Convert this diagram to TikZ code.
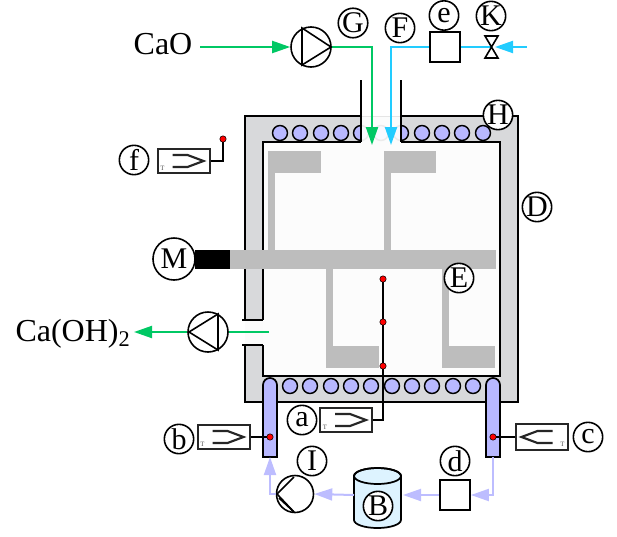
\documentclass[tikz,border=0pt]{standalone}
\usepackage{fontspec}
\setmainfont{Liberation Serif}
\usetikzlibrary{arrows.meta}
\definecolor{feedgreen}{HTML}{00C864}
\definecolor{watercyan}{HTML}{22CCFF}
\definecolor{coolblue}{HTML}{BDBDFF}
\definecolor{coilblue}{HTML}{B8B8FF}
\definecolor{wallgray}{HTML}{D8D9DB}
\definecolor{paddlegray}{HTML}{BDBDBD}
\definecolor{tankblue}{HTML}{DDF3FF}
\definecolor{roomwhite}{HTML}{FCFCFC}

\begin{document}
\begin{tikzpicture}[
    x=0.75pt, y=-0.75pt,
    tag/.style={circle, draw=black, line width=1.2pt, fill=white, minimum size=22pt, inner sep=0pt, font=\fontsize{22.5}{24}\selectfont},
    species/.style={inner sep=0pt, font=\fontsize{24}{26}\selectfont},
    pump/.style={circle, draw=black, line width=1.2pt, fill=white, minimum size=30pt, inner sep=0pt},
    smallbox/.style={rectangle, draw=black, line width=1.3pt, fill=white, minimum size=22.5pt, inner sep=0pt},
    sensorbox/.style={rectangle, draw=black!85, line width=1.5pt, fill=white, minimum width=39pt, minimum height=17.5pt, inner sep=0pt},
    probe/.style={circle, draw=black, line width=0.4pt, fill=red, minimum size=4.8pt, inner sep=0pt},
    wire/.style={draw=black, line width=1.2pt},
    wall/.style={draw=black, line width=1.3pt},
    coil/.style={draw=black, line width=1.1pt, fill=coilblue},
    jacket/.style={draw=black, line width=1.3pt, fill=coilblue},
    paddle/.style={fill=paddlegray},
    feed/.style={draw=feedgreen, line width=1.5pt, -{Triangle[length=13.5pt,width=9pt]}},
    water/.style={draw=watercyan, line width=1.5pt, -{Triangle[length=13.5pt,width=9pt]}},
    coolant/.style={draw=coolblue, line width=1.5pt, -{Triangle[length=13.5pt,width=9pt]}},
    sensormark/.pic={
        \draw [line width=1.6pt, draw=black!85] (-11,-6) -- (4,-6) -- (20,0) -- (4,6) -- (-11,6);
        \node [text=black!70, inner sep=0pt, font=\fontsize{5}{6}\selectfont] at (-21,7) {T};
    }
]
\useasboundingbox (0,0) rectangle (617,536);

% Reactor wall and interior
\fill [wallgray] (245,116) rectangle (518,402);
\fill [roomwhite] (263,142) rectangle (500,376);

% Coils in the wall
\foreach \x in {280,300,321,341,361,381,401,422,442,462,483}
    \draw [coil] (\x,133) circle [radius=5.6pt];
\foreach \x in {290,310,331,351,371,392,412,432,453,473}
    \draw [coil] (\x,386) circle [radius=5.6pt];

% Openings in the wall
\fill [white, opacity=0.92] (361,116) rectangle (401,142);
\draw [black!10] (361,116) -- (401,116);
\fill [white, opacity=0.9] (245,320) rectangle (263,345);
\draw [wall] (361,116) -- (245,116) -- (245,320);
\draw [wall] (245,345) -- (245,402) -- (518,402) -- (518,116) -- (401,116);
\draw [wall] (263,320) -- (263,142) -- (361,142);
\draw [wall] (263,345) -- (263,376) -- (500,376) -- (500,142) -- (401,142);
\draw [wall] (361,80) -- (361,142);
\draw [wall] (401,80) -- (401,142);
\draw [wall] (242,320) -- (263,320);
\draw [wall] (242,345) -- (263,345);

% Stirrer
\fill [paddle] (230,250) rectangle (496,269);
\fill [black] (195,250) rectangle (230,269);
\fill [paddle] (268,151) rectangle (321,173);
\fill [paddle] (268,173) rectangle (275,250);
\fill [paddle] (384,151) rectangle (436,173);
\fill [paddle] (384,173) rectangle (391,250);
\fill [paddle] (326,269) rectangle (333,346);
\fill [paddle] (326,346) rectangle (379,368);
\fill [paddle] (442,269) rectangle (449,346);
\fill [paddle] (442,346) rectangle (495,368);

% Jacket tubes
\draw [jacket] (263,457) -- (263,385) arc [start angle=180, end angle=0, radius=5.25pt] -- (277,457) -- cycle;
\draw [jacket] (486,457) -- (486,385) arc [start angle=180, end angle=0, radius=5.25pt] -- (500,457) -- cycle;

% Tank
\draw [wall, fill=tankblue] (354,476) -- (354,520) arc [start angle=180, end angle=360, x radius=17.6pt, y radius=6pt] -- (401,476) arc [start angle=0, end angle=180, x radius=17.6pt, y radius=6pt] -- cycle;
\draw [wall] (377.5,476) ellipse [x radius=17.6pt, y radius=6pt];

% Free ends of the connectors
\coordinate (caostart) at (200,47);
\coordinate (caoin) at (372,145);
\coordinate (waterstart) at (527,47);
\coordinate (valvein) at (495,47);
\coordinate (waterin) at (391,145);
\coordinate (slurrystart) at (269,332);
\coordinate (slurryend) at (134,332);
\coordinate (jacketleft) at (270,457);
\coordinate (jacketright) at (493,457);
\coordinate (tankin) at (403,495);
\coordinate (tankout) at (354,495);
\coordinate (probetop) at (223,139);

% Pumps, boxes and valve
\node [pump] (pumpg) at (311,47) {};
\node [pump] (pumpo) at (208,332) {};
\node [pump, minimum size=27.75pt] (pumpi) at (295,494) {};
\node [smallbox] (boxe) at (445,47) {};
\node [smallbox] (boxd) at (455,495) {};
\node [inner sep=0pt, minimum width=9.75pt, minimum height=16.5pt] (valve) at (491.5,47) {};

% Flows
\draw [feed] (caostart) -- (pumpg.west);
\draw [feed] (pumpg.east) -| (caoin);
\draw [feed, -] (slurrystart) -- (pumpo.east);
\draw [feed] (pumpo.west) -- (slurryend);
\draw [water, -] (valve.center) -- (boxe.east);
\draw [water] (boxe.west) -| (waterin);
\draw [wire] (485,36) -- (498,36) -- (485,58) -- (498,58) -- cycle;
\draw [water] (waterstart) -- (valvein);
\draw [coolant] (jacketright) |- (boxd.east);
\draw [coolant] (boxd.west) -- (tankin);
\draw [coolant] (tankout) -- (pumpi.east);
\draw [coolant] (pumpi.west) -| (jacketleft);

% Symbols inside pumps
\draw [wire] (302,28) -- (331,47) -- (302,65) -- cycle;
\draw [wire] (218,314) -- (189,332) -- (218,350) -- cycle;
\draw [wire] (294,477) -- (277,494) -- (294,512);
\draw [wire] (279,498) -- (294,512);

% Sensors
\node [sensorbox] (sensora) at (346,420) {};
\node [sensorbox] (sensorb) at (223.5,437) {};
\node [sensorbox, minimum height=19pt] (sensorc) at (541.5,437) {};
\node [sensorbox] (sensorf) at (183.5,161) {};
\pic at (sensora) {sensormark};
\pic at (sensorb) {sensormark};
\pic [xscale=-1] at (sensorc) {sensormark};
\pic at (sensorf) {sensormark};
\node [probe] (dota) at (383,279) {};
\node [probe] (dotb) at (383,322) {};
\node [probe] (dotc) at (383,366) {};
\node [probe] (dotd) at (270,437) {};
\node [probe] (dote) at (493,437) {};
\node [probe] (dotf) at (probetop) {};
\draw [wire] (sensora.east) -| (dotc);
\draw [wire] (dotc) -- (dotb) -- (dota);
\draw [wire] (sensorb.east) -- (dotd);
\draw [wire] (sensorc.west) -- (dote);
\draw [wire] (sensorf.east) -| (dotf);

% Labels
\node [species] (cao) at (163,44) {CaO};
\node [species] (caoh) at (73,334) {Ca(OH)$_{\mathrm{2}}$};
\node [tag, minimum size=31.5pt] (tagm) at (174,259) {M};
\node [tag] (tagg) at (353,23) {G};
\node [tag] (tagf) at (400,28) {F};
\node [tag] (tage) at (444,15.5) {e};
\node [tag] (tagk) at (491,16) {K};
\node [tag] (tagh) at (498,115) {H};
\node [tag] (tagd) at (537,207) {D};
\node [tag] (tagee) at (459,278) {E};
\node [tag] (tagff) at (134,160) {f};
\node [tag] (taga) at (302,420) {a};
\node [tag] (tagb) at (179,439) {b};
\node [tag] (tagc) at (588,437) {c};
\node [tag] (tagdd) at (455,461) {d};
\node [tag] (tagi) at (312,461) {I};
\node [tag] (tagbb) at (378,506) {B};

\end{tikzpicture}
\end{document}
